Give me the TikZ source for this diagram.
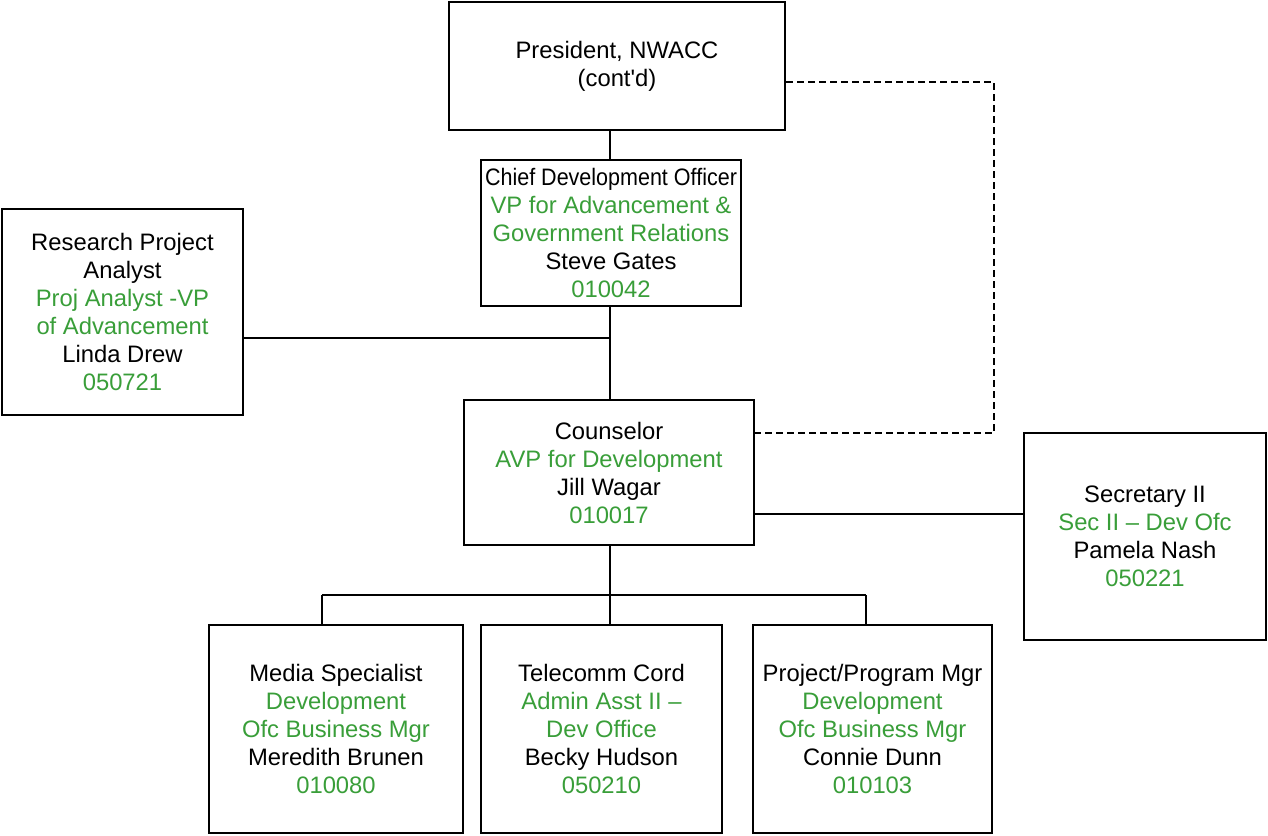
\documentclass[tikz,border=0pt]{standalone}
\usepackage{fontspec}
\setmainfont{Liberation Sans}
\definecolor{titlegreen}{RGB}{57,158,57}
\newcommand{\gr}[1]{\textcolor{titlegreen}{#1}}
\begin{document}
\begin{tikzpicture}[x=1pt,y=-1pt,line width=2.4pt]
    \tikzstyle{post box}=[draw, line width=2.5pt, align=center, inner sep=0pt,
        font=\fontsize{23.8}{28}\selectfont]
    \tikzstyle{link}=[draw, line width=2.4pt]
    \tikzstyle{dotted link}=[link, dash pattern=on 7pt off 4pt]

    \useasboundingbox (0,0) rectangle (1268,835);

    % Top of the chart
    \node[post box, minimum width=336pt, minimum height=128pt] (pres) at (617,66)
        {President, NWACC\\(cont\textquotesingle d)};
    \node[post box, minimum width=260pt, minimum height=146pt] (cdo) at (611,233)
        {\scalebox{0.904}[1]{Chief Development Officer}\\\gr{VP for Advancement \&}\\\gr{Government Relations}\\Steve Gates\\\gr{010042}};
    \node[post box, minimum width=241pt, minimum height=206pt] (rpa) at (122.5,312)
        {Research Project\\Analyst\\\gr{Proj Analyst -VP}\\\gr{of Advancement}\\Linda Drew\\\gr{050721}};

    % Middle row
    \node[post box, minimum width=290pt, minimum height=145pt] (coun) at (609,472.5)
        {Counselor\\\gr{AVP for Development}\\Jill Wagar\\\gr{010017}};
    \node[post box, minimum width=242pt, minimum height=207pt] (sec) at (1145,536.5)
        {Secretary II\\\gr{Sec II -- Dev Ofc}\\Pamela Nash\\\gr{050221}};

    % Bottom row
    \node[post box, minimum width=254pt, minimum height=208pt] (media) at (336,729)
        {Media Specialist\\\gr{Development}\\\gr{Ofc Business Mgr}\\Meredith Brunen\\\gr{010080}};
    \node[post box, minimum width=241pt, minimum height=208pt] (tele) at (601.5,729)
        {Telecomm Cord\\\gr{Admin Asst II --}\\\gr{Dev Office}\\Becky Hudson\\\gr{050210}};
    \node[post box, minimum width=239pt, minimum height=208pt] (proj) at (872.5,729)
        {Project/Program Mgr\\\gr{Development}\\\gr{Ofc Business Mgr}\\Connie Dunn\\\gr{010103}};

    % Junction points
    \coordinate (top-tee) at (610,338);
    \coordinate (sec-tee) at (754,514);
    \coordinate (dash-top) at (994,82);
    \coordinate (dash-bot) at (994,433);
    \coordinate (bus-left) at (322,595);
    \coordinate (bus-mid) at (610,595);
    \coordinate (bus-right) at (866,595);

    % Solid reporting lines
    \path[link] (cdo.north -| top-tee) -- (pres.south -| top-tee);
    \path[link] (cdo.south -| top-tee) -- (coun.north -| top-tee);
    \path[link] (rpa.east |- top-tee) -- (top-tee);
    \path[link] (coun.east |- sec-tee) -- (sec.west |- sec-tee);

    % Dotted reporting line
    \path[dotted link] (pres.east |- dash-top) -- (dash-top) -- (dash-bot) -- (coun.east |- dash-bot);

    % Bus to the bottom row
    \path[link] (coun.south -| bus-mid) -- (bus-mid);
    \path[link] (bus-left) -- (bus-right);
    \foreach \drop/\post in {bus-left/media, bus-mid/tele, bus-right/proj}
        \path[link] (\drop) -- (\post.north -| \drop);
\end{tikzpicture}
\end{document}
